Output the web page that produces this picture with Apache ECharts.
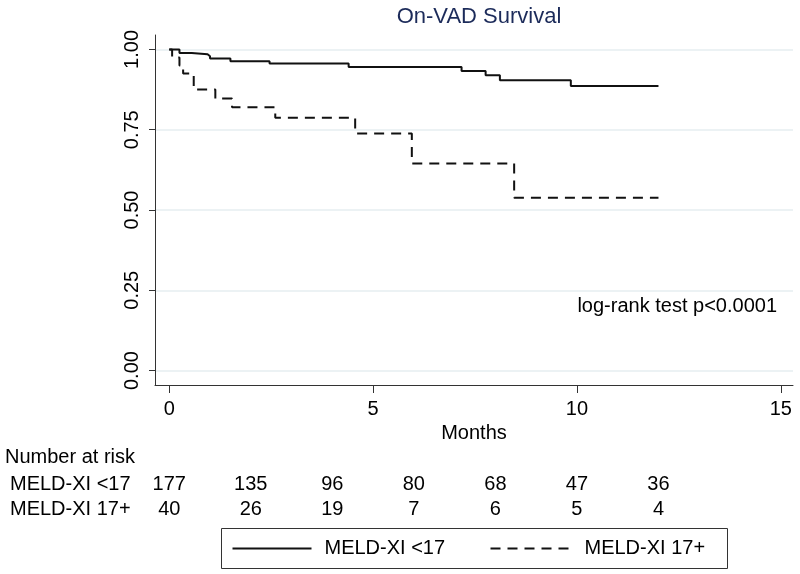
<!DOCTYPE html>
<html>
<head>
<meta charset="utf-8">
<script src="https://cdn.jsdelivr.net/npm/echarts@6/dist/echarts.min.js"></script>
<style>
  html, body { margin: 0; padding: 0; background: #fff; }
  #chart { width: 800px; height: 574px; }
</style>
</head>
<body>
<div id="chart"></div>
<script>
// ---- data ----
const groupNames = ['MELD-XI <17', 'MELD-XI 17+'];
const lowTimes = [0, 0.25, 0.55, 0.94, 1.0, 1.5, 2.46, 4.4, 7.17, 7.76, 8.11, 9.85, 12.0];
const lowSurv  = [1, 0.989, 0.985, 0.979, 0.972, 0.963, 0.956, 0.945, 0.933, 0.920, 0.904, 0.886, 0.886];
const highTimes = [0, 0.07, 0.25, 0.34, 0.6, 1.13, 1.54, 2.6, 4.56, 5.95, 8.46, 12.0];
const highSurv  = [1, 0.975, 0.95, 0.925, 0.875, 0.847, 0.82, 0.787, 0.738, 0.645, 0.538, 0.538];
const riskTimes = [0, 2, 4, 6, 8, 10, 12];
const riskLow  = [177, 135, 96, 80, 68, 47, 36];
const riskHigh = [40, 26, 19, 7, 6, 5, 4];
const xTicks = [0, 5, 10, 15];
const yTicks = [0, 0.25, 0.5, 0.75, 1];
const titleText = 'On-VAD Survival';
const xName = 'Months';
const testText = 'log-rank test p<0.0001';
const riskTitle = 'Number at risk';

// ---- build ----
const FONT = 'Liberation Sans, Arial, sans-serif';
const zip = (a, b) => a.map((v, i) => [v, b[i]]);
const X_MIN = -0.35, X_MAX = 15.3, Y_MIN = -0.045, Y_MAX = 1.045;
const DASH = [10, 7];

const riskSeries = (vals, row) => ({
  type: 'scatter', xAxisIndex: 1, yAxisIndex: 1,
  data: riskTimes.map((t, i) => [t, row, vals[i]]),
  symbol: 'rect', symbolSize: 0.01,
  itemStyle: { color: '#000', opacity: 1 },
  label: {
    show: true, position: 'inside', formatter: p => String(p.value[2]),
    fontFamily: FONT, fontSize: 20, color: '#000',
    textBorderWidth: 0, textShadowBlur: 0
  },
  silent: true
});

const chart = echarts.init(document.getElementById('chart'), null, { renderer: 'canvas' });
const option = {
  animation: false,
  backgroundColor: '#ffffff',
  textStyle: { fontFamily: FONT },
  title: {
    text: titleText,
    left: 474, top: 1, textAlign: 'center',
    textStyle: { fontFamily: FONT, fontSize: 22, fontWeight: 'normal', color: '#1c2b5a' }
  },
  grid: [
    { left: 155, right: 7, top: 35, bottom: 189, containLabel: false },
    { left: 155, right: 7, top: 471.5, height: 50, containLabel: false }
  ],
  xAxis: [
    {
      type: 'value', gridIndex: 0, min: X_MIN, max: X_MAX,
      name: xName, nameLocation: 'middle', nameGap: 37,
      nameTextStyle: { fontFamily: FONT, fontSize: 20, color: '#000' },
      axisLine: { show: true, onZero: false, lineStyle: { color: '#333', width: 1 } },
      axisTick: { show: true, length: 8, customValues: xTicks, lineStyle: { color: '#333' } },
      axisLabel: { customValues: xTicks, margin: 14, fontFamily: FONT, fontSize: 20, color: '#000' },
      splitLine: { show: false }
    },
    {
      type: 'value', gridIndex: 1, min: X_MIN, max: X_MAX, show: false
    }
  ],
  yAxis: [
    {
      type: 'value', gridIndex: 0, min: Y_MIN, max: Y_MAX,
      axisLine: { show: true, onZero: false, lineStyle: { color: '#333', width: 1 } },
      axisTick: { show: true, length: 6, customValues: yTicks, lineStyle: { color: '#333' } },
      axisLabel: {
        customValues: yTicks, rotate: 90, margin: 13,
        formatter: v => v.toFixed(2),
        fontFamily: FONT, fontSize: 20, color: '#000'
      },
      splitLine: { show: true, lineStyle: { color: '#e6eef1', width: 1.5 } }
    },
    {
      type: 'category', gridIndex: 1, data: groupNames, inverse: true,
      axisLine: { show: false }, axisTick: { show: false }, splitLine: { show: false },
      axisLabel: { interval: 0, align: 'left', margin: 145, fontFamily: FONT, fontSize: 20, color: '#000' }
    }
  ],
  series: [
    {
      name: groupNames[0], type: 'line', step: 'end',
      xAxisIndex: 0, yAxisIndex: 0,
      data: zip(lowTimes, lowSurv),
      symbol: 'none', showSymbol: false,
      lineStyle: { color: '#111', width: 2, type: 'solid' },
      itemStyle: { color: '#111' }
    },
    {
      name: groupNames[1], type: 'line', step: 'end',
      xAxisIndex: 0, yAxisIndex: 0,
      data: zip(highTimes, highSurv),
      symbol: 'none', showSymbol: false,
      lineStyle: { color: '#111', width: 2, type: DASH },
      itemStyle: { color: '#111' }
    },
    riskSeries(riskLow, groupNames[0]),
    riskSeries(riskHigh, groupNames[1])
  ],
  graphic: [
    {
      type: 'text', right: 23, top: 296,
      style: { text: testText, fontFamily: FONT, fontSize: 20, fill: '#000' }
    },
    {
      type: 'text', left: 5, top: 447,
      style: { text: riskTitle, fontFamily: FONT, fontSize: 20, fill: '#000' }
    },
    {
      type: 'group', left: 221, top: 528,
      children: [
        { type: 'rect', shape: { x: 0, y: 0, width: 506, height: 40 },
          style: { fill: '#fff', stroke: '#333', lineWidth: 1 } },
        { type: 'line', shape: { x1: 11, y1: 20, x2: 90, y2: 20 },
          style: { stroke: '#111', lineWidth: 2 } },
        { type: 'text', x: 103, y: 20,
          style: { text: groupNames[0], fontFamily: FONT, fontSize: 20, fill: '#000', textVerticalAlign: 'middle' } },
        { type: 'line', shape: { x1: 269, y1: 20, x2: 348, y2: 20 },
          style: { stroke: '#111', lineWidth: 2, lineDash: [10, 7] } },
        { type: 'text', x: 363, y: 20,
          style: { text: groupNames[1], fontFamily: FONT, fontSize: 20, fill: '#000', textVerticalAlign: 'middle' } }
      ]
    }
  ]
};
chart.setOption(option);
</script>
</body>
</html>
